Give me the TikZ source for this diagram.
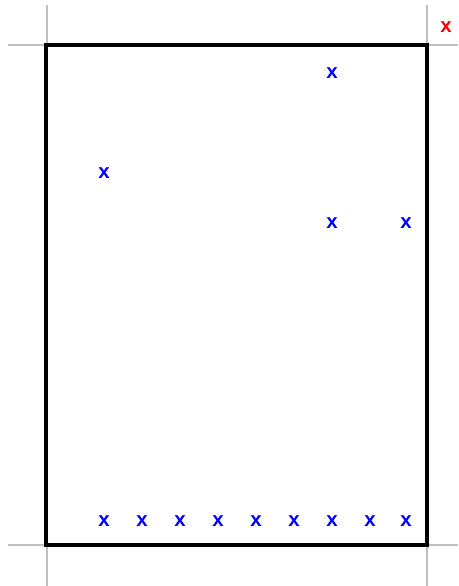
\documentclass[tikz,border=0pt]{standalone}
\usepackage{fontspec}
\setmainfont{Liberation Sans}
\begin{document}
\begin{tikzpicture}[x=1pt,y=-1pt,
  guide/.style={draw=black!25,line width=1.6pt},
  frame/.style={draw=black,line width=3.4pt},
  mark blue/.style={text=blue,font=\fontsize{20.5}{22}\selectfont\bfseries,inner sep=0pt,yshift=-1.5pt},
  mark red/.style={text=red,font=\fontsize{20.5}{22}\selectfont\bfseries,inner sep=0pt,yshift=-1.5pt}]
\useasboundingbox (0,0) rectangle (458,586);
% guide lines
\coordinate (tl) at (46,45);
\coordinate (tr) at (427,45);
\coordinate (bl) at (46,545);
\coordinate (br) at (427,545);
\coordinate (tlu) at (47,5);
\coordinate (tll) at (8,45);
\coordinate (tru) at (427,5);
\coordinate (trr) at (458,45);
\coordinate (bll) at (8,545);
\coordinate (bld) at (47,586);
\coordinate (brr) at (458,545);
\coordinate (brd) at (427,586);
\draw[guide] (tlu) -- (47,45);
\draw[guide] (tll) -- (tl);
\draw[guide] (tru) -- (tr);
\draw[guide] (tr) -- (trr);
\draw[guide] (bll) -- (bl);
\draw[guide] (47,545) -- (bld);
\draw[guide] (br) -- (brr);
\draw[guide] (br) -- (brd);
\draw[frame] (tl) rectangle (br);
% marks
\node[mark red] (r) at (446,26) {x};
\node[mark blue] (a1) at (332,72) {x};
\node[mark blue] (a2) at (104,172) {x};
\node[mark blue] (a3) at (332,222) {x};
\node[mark blue] (a4) at (406,222) {x};
\node[mark blue] (b1) at (104,520) {x};
\node[mark blue] (b2) at (142,520) {x};
\node[mark blue] (b3) at (180,520) {x};
\node[mark blue] (b4) at (218,520) {x};
\node[mark blue] (b5) at (256,520) {x};
\node[mark blue] (b6) at (294,520) {x};
\node[mark blue] (b7) at (332,520) {x};
\node[mark blue] (b8) at (370,520) {x};
\node[mark blue] (b9) at (406,520) {x};
\end{tikzpicture}
\end{document}
